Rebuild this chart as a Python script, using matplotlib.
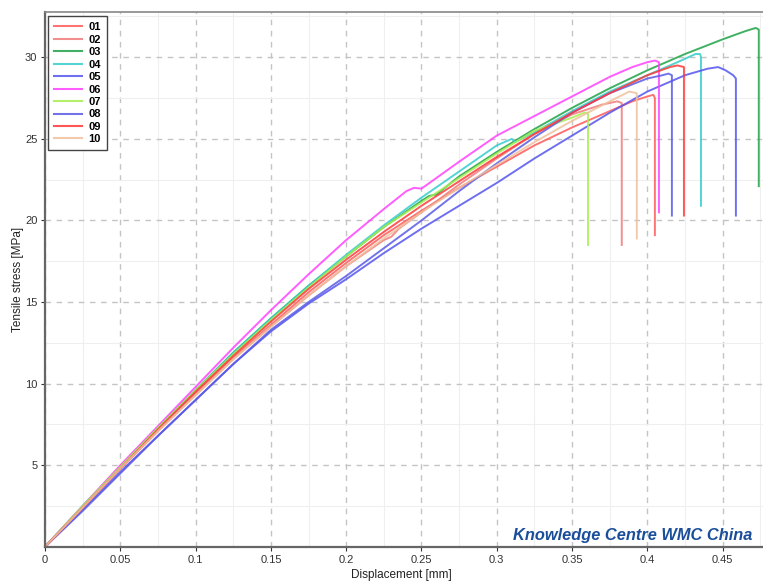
import matplotlib
matplotlib.use("Agg")
import matplotlib.pyplot as plt
from matplotlib.ticker import MultipleLocator

# ---------------- data ----------------
labels = ["01", "02", "03", "04", "05", "06", "07", "08", "09", "10"]
colors = ["#ff5a5a", "#f07a7a", "#1fa347", "#36cccc", "#5555ee",
          "#ff40ff", "#a8ee50", "#5a5ae6", "#ff3838", "#f0c09c"]

x01 = [0, .025, .05, .075, .1, .125, .15, .175, .2, .225, .25, .275, .3, .325, .35, .375, .39, .40, .404, .405, .405]
y01 = [0, 2.4, 4.8, 7.1, 9.4, 11.6, 13.6, 15.6, 17.4, 19.1, 20.6, 22.0, 23.3, 24.6, 25.7, 26.7, 27.3, 27.6, 27.7, 27.5, 19.1]

x02 = [0, .025, .05, .075, .1, .125, .15, .175, .2, .225, .23, .235, .25, .275, .3, .325, .35, .37, .38, .383, .383]
y02 = [0, 2.4, 4.8, 7.1, 9.3, 11.5, 13.5, 15.4, 17.2, 18.8, 19.0, 19.5, 20.5, 22.2, 23.8, 25.3, 26.5, 27.1, 27.3, 27.2, 18.5]

x03 = [0, .025, .05, .075, .1, .125, .15, .175, .2, .225, .25, .255, .26, .275, .3, .325, .35, .375, .4, .425, .45, .465, .472, .474, .474]
y03 = [0, 2.5, 4.9, 7.3, 9.6, 11.9, 14.0, 16.0, 17.8, 19.6, 21.2, 21.5, 21.6, 22.7, 24.2, 25.6, 26.9, 28.1, 29.2, 30.2, 31.1, 31.6, 31.8, 31.7, 22.1]

x04 = [0, .025, .05, .075, .1, .125, .15, .175, .2, .225, .25, .275, .3, .31, .312, .325, .35, .375, .4, .42, .432, .435, .4356, .4356]
y04 = [0, 2.5, 4.9, 7.3, 9.6, 11.9, 14.0, 16.0, 17.9, 19.7, 21.4, 23.0, 24.6, 25.0, 24.8, 25.4, 26.7, 27.9, 28.9, 29.7, 30.2, 30.2, 30.0, 20.9]

x05 = [0, .025, .05, .075, .1, .125, .15, .175, .2, .225, .25, .275, .3, .325, .35, .375, .4, .425, .44, .447, .452, .457, .4588, .4588]
y05 = [0, 2.2, 4.5, 6.8, 9.0, 11.2, 13.2, 14.9, 16.4, 18.0, 19.5, 20.9, 22.3, 23.8, 25.2, 26.6, 27.9, 28.9, 29.3, 29.4, 29.2, 28.9, 28.7, 20.3]

x06 = [0, .025, .05, .075, .1, .125, .15, .175, .2, .225, .24, .245, .25, .275, .3, .325, .35, .375, .39, .4, .405, .4077, .4077]
y06 = [0, 2.5, 5.0, 7.4, 9.8, 12.2, 14.5, 16.7, 18.8, 20.7, 21.8, 22.0, 21.95, 23.6, 25.2, 26.4, 27.6, 28.8, 29.4, 29.7, 29.8, 29.7, 20.5]

x07 = [0, .025, .05, .075, .1, .125, .15, .175, .2, .225, .25, .275, .3, .325, .35, .358, .3606, .3606]
y07 = [0, 2.5, 4.9, 7.3, 9.6, 11.8, 13.9, 15.9, 17.8, 19.6, 21.1, 22.6, 24.1, 25.5, 26.3, 26.6, 26.6, 18.5]

x08 = [0, .025, .05, .075, .1, .125, .15, .175, .2, .225, .25, .275, .3, .325, .35, .375, .4, .41, .414, .4163, .4163]
y08 = [0, 2.3, 4.6, 6.8, 9.0, 11.2, 13.3, 15.0, 16.6, 18.3, 20.0, 21.8, 23.5, 25.1, 26.6, 27.8, 28.7, 28.9, 29.0, 28.9, 20.3]

x09 = [0, .025, .05, .075, .1, .125, .15, .175, .2, .225, .25, .275, .3, .325, .35, .375, .4, .415, .42, .4243, .4243]
y09 = [0, 2.4, 4.8, 7.2, 9.5, 11.7, 13.8, 15.8, 17.6, 19.3, 20.9, 22.4, 23.9, 25.3, 26.6, 27.8, 28.9, 29.4, 29.5, 29.4, 20.3]

x10 = [0, .025, .05, .075, .1, .125, .15, .175, .2, .225, .25, .275, .3, .325, .35, .375, .388, .393, .393]
y10 = [0, 2.4, 4.8, 7.1, 9.3, 11.5, 13.5, 15.4, 17.2, 18.9, 20.5, 22.0, 23.4, 24.8, 26.1, 27.3, 27.9, 27.8, 18.9]

xs = [x01, x02, x03, x04, x05, x06, x07, x08, x09, x10]
ys = [y01, y02, y03, y04, y05, y06, y07, y08, y09, y10]

x_ticks = [0, 0.05, 0.1, 0.15, 0.2, 0.25, 0.3, 0.35, 0.4, 0.45]
x_tick_labels = ["0", "0.05", "0.1", "0.15", "0.2", "0.25", "0.3", "0.35", "0.4", "0.45"]
y_ticks = [5, 10, 15, 20, 25, 30]

# ---------------- figure ----------------
plt.rcParams['font.family'] = ['Liberation Sans', 'DejaVu Sans']
fig = plt.figure(figsize=(7.63, 5.83), dpi=100)
ax = fig.add_axes([0.059, 0.062, 0.941, 0.917])

for x, y, c, lab in zip(xs, ys, colors, labels):
    ax.plot(x, y, color=c, lw=1.4, alpha=0.85, label=lab, solid_joinstyle='round')

ax.set_xlim(0, 0.4768)
ax.set_ylim(0, 32.76)
ax.set_xticks(x_ticks)
ax.set_xticklabels(x_tick_labels)
ax.set_yticks(y_ticks)
ax.xaxis.set_minor_locator(MultipleLocator(0.025))
ax.yaxis.set_minor_locator(MultipleLocator(2.5))
ax.grid(which='major', color='#c4c4c4', linestyle=(0, (4, 4)), lw=1.0)
ax.grid(which='minor', color='#efefef', linestyle='-', lw=0.8)
ax.set_axisbelow(True)

ax.tick_params(axis='both', which='major', labelsize=8, colors='#333333', length=3, width=0.8)
ax.tick_params(axis='both', which='minor', length=0)
ax.tick_params(axis='x', pad=3)
ax.tick_params(axis='y', pad=2.5)

for s in ['left', 'bottom']:
    ax.spines[s].set_color('#666666')
    ax.spines[s].set_linewidth(1.6)
ax.spines['top'].set_color('#888888')
ax.spines['top'].set_linewidth(1.2)
ax.spines['right'].set_visible(False)

ax.set_xlabel("Displacement [mm]", fontsize=8.5, color='#222222')
ax.set_ylabel("Tensile stress [MPa]", fontsize=8.5, color='#222222')
ax.xaxis.set_label_coords(0.496, -0.042)
ax.yaxis.set_label_coords(-0.029, 0.5)

leg = ax.legend(loc='upper left', bbox_to_anchor=(0.004, 0.9925), borderaxespad=0,
                prop={'weight': 'bold', 'size': 8}, frameon=True, fancybox=False,
                edgecolor='#444444', framealpha=1, handlelength=2.5, handletextpad=0.6,
                labelspacing=0.22, borderpad=0.55)
leg.get_frame().set_linewidth(1.0)
for h in leg.get_lines():
    h.set_linewidth(1.5)

ax.text(0.985, 0.008, "Knowledge Centre WMC China", transform=ax.transAxes,
        ha='right', va='bottom', fontsize=11.8, fontweight='bold', fontstyle='italic',
        color='#1a4e9a')

fig.savefig("out.png", dpi=100)
